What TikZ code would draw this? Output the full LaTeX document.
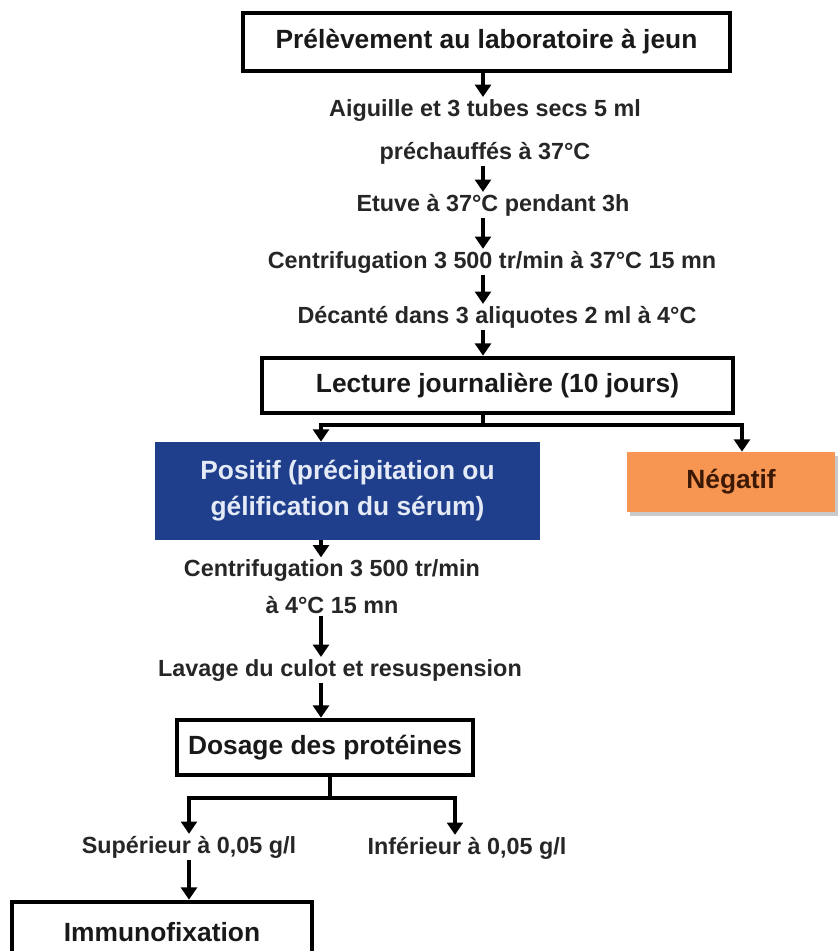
\documentclass[tikz,border=0pt]{standalone}
\usepackage{fontspec}
\setmainfont{Liberation Sans}
\usetikzlibrary{arrows.meta,shadows}
\definecolor{posblue}{RGB}{31,63,140}
\definecolor{postext}{RGB}{228,234,246}
\definecolor{negorange}{RGB}{247,150,82}
\definecolor{negtext}{RGB}{60,25,5}

\begin{document}
\begin{tikzpicture}[x=0.02cm,y=-0.02cm,
   every node/.style={inner sep=1pt,align=center},
   steptext/.style={font=\fontsize{13.3}{24.5}\selectfont\bfseries,text=black!85},
   titlebox/.style={draw,line width=2.6pt,font=\fontsize{15}{18}\selectfont\bfseries,text=black!90},
   arr/.style={line width=2.1pt,-{Triangle[width=9pt,length=7pt]}}]

\useasboundingbox (0,0) rectangle (839,951);
\clip (0,0) rectangle (839,951);

\coordinate (col) at (483,0);
\coordinate (colp) at (321,0);
\coordinate (coln) at (742,0);
\coordinate (cold) at (330,0);
\coordinate (coli) at (455,0);

\node[titlebox,minimum width=9.74cm,minimum height=1.16cm] (pre) at (486.5,42) {Prélèvement au laboratoire à jeun};
\node[steptext] (aig) at (485,131.5) {Aiguille et 3 tubes secs 5 ml\\préchauffés à 37°C};
\node[steptext] (etu) at (493,205) {Etuve à 37°C pendant 3h};
\node[steptext] (cen) at (492,262) {Centrifugation 3 500 tr/min à 37°C 15 mn};
\node[steptext] (dec) at (497,317) {Décanté dans 3 aliquotes 2 ml à 4°C};
\node[titlebox,minimum width=9.42cm,minimum height=1.1cm] (lect) at (497.5,385.5) {Lecture journalière (10 jours)};
\node[fill=posblue,text=postext,font=\fontsize{15}{20.5}\selectfont\bfseries,
   minimum width=7.7cm,minimum height=1.96cm] (pos) at (347.5,491) {Positif (précipitation ou\\gélification du sérum)};
\node[fill=negorange,text=negtext,font=\fontsize{15}{18}\selectfont\bfseries,
   drop shadow={shadow xshift=1.5pt,shadow yshift=-2pt,fill=black!35,opacity=.6},
   minimum width=4.16cm,minimum height=1.2cm] (neg) at (731,482) {Négatif};
\node[steptext,font=\fontsize{13.3}{21}\selectfont\bfseries] (cen2) at (332,586.5) {Centrifugation 3 500 tr/min\\à 4°C 15 mn};
\node[steptext] (lav) at (340,670) {Lavage du culot et resuspension};
\node[titlebox,minimum width=5.92cm,minimum height=1.1cm] (dos) at (325,747.5) {Dosage des protéines};
\node[steptext] (sup) at (189,847) {Supérieur à 0,05 g/l};
\node[steptext] (inf) at (467,848) {Inférieur à 0,05 g/l};
\node[titlebox,minimum width=6cm,minimum height=1.2cm] (imm) at (162,932) {Immunofixation};

\draw[arr] (pre.south -| col) -- (aig.north -| col);
\draw[arr] (aig.south -| col) -- (etu.north -| col);
\draw[arr] (etu.south -| col) -- (cen.north -| col);
\draw[arr] (cen.south -| col) -- (dec.north -| col);
\draw[arr] (dec.south -| col) -- (lect.north -| col);
\draw[arr] (lect.south -| col) -- ++(0,10) -| (pos.north -| colp);
\draw[arr] (lect.south -| col) -- ++(0,10) -| (neg.north -| coln);
\draw[arr] (pos.south -| colp) -- (cen2.north -| colp);
\draw[arr] (cen2.south -| colp) -- (lav.north -| colp);
\draw[arr] (lav.south -| colp) -- (dos.north -| colp);
\draw[arr] (dos.south -| cold) -- ++(0,21) -| (sup.north);
\draw[arr] (dos.south -| cold) -- ++(0,21) -| (inf.north -| coli);
\draw[arr] (sup.south) -- (sup.south |- imm.north);

\end{tikzpicture}
\end{document}
